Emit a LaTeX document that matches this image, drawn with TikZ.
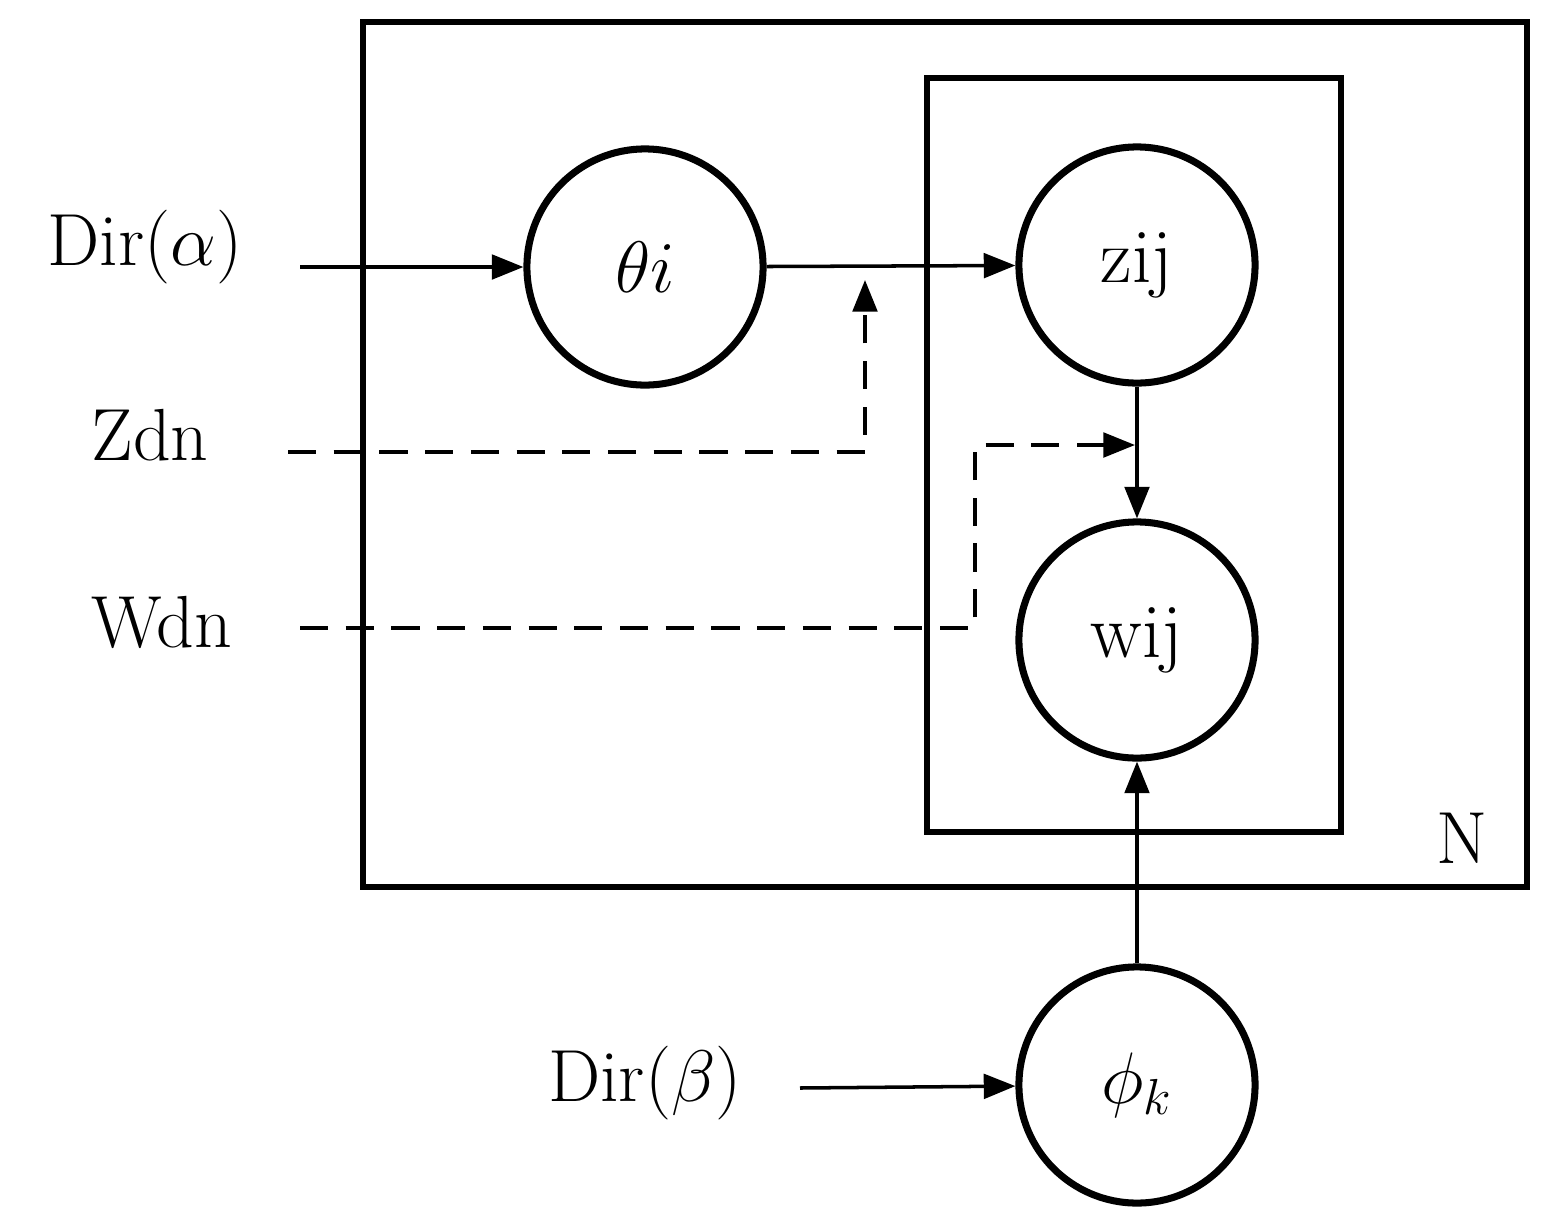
\documentclass[tikz,border=0pt]{standalone}
\usepackage{amsmath}
\usetikzlibrary{arrows.meta,positioning}
\tikzset{
  var/.style={circle, draw, line width=2pt, minimum size=2.36cm, inner sep=0pt, font=\fontsize{22}{26}\selectfont},
  lbl/.style={font=\fontsize{21}{25}\selectfont},
  plate/.style={draw, line width=1.6pt},
  edge/.style={line width=1pt, -{Triangle[length=9pt,width=7pt]}},
  dedge/.style={edge, dash pattern=on 8pt off 5pt}
}
\begin{document}
\begin{tikzpicture}[x=0.01cm,y=-0.01cm]
    \useasboundingbox (0,0) rectangle (1544,1217);
    % plates
    \draw[plate] (363,22) rectangle (1527,887);
    \draw[plate] (927,78) rectangle (1341,832);
    \node[lbl] (N) at (1462,838) {N};

    % variables
    \node[var] (theta) at (645,267) {$\theta i$};
    \node[var] (z) at (1137,265) {zij};
    \node[var] (w) at (1137,640) {wij};
    \node[var] (phi) at (1137,1085) {$\phi_k$};

    % inputs
    \node[lbl] (alpha) at (145,247) {Dir($\alpha$)};
    \node[lbl] (zdn) at (150,435) {Zdn};
    \node[lbl] (wdn) at (162,622) {Wdn};
    \node[lbl] (beta) at (645,1083) {Dir($\beta$)};
    \coordinate (a0) at (300,267);
    \coordinate (z0) at (288,452);
    \coordinate (zt) at (865,280);
    \coordinate (w0) at (300,628);
    \coordinate (wt) at (1135,445);
    \coordinate (b0) at (800,1088);

    \draw[edge] (a0) -- (theta);
    \draw[edge] (theta) -- (z);
    \draw[edge] (z) -- (w);
    \draw[edge] (phi) -- (w);
    \draw[edge] (b0) -- (phi);
    \draw[dedge] (z0) -- (865,452) -- (zt);
    \draw[dedge] (w0) -- (975,628) -- (975,445) -- (wt);
\end{tikzpicture}
\end{document}
